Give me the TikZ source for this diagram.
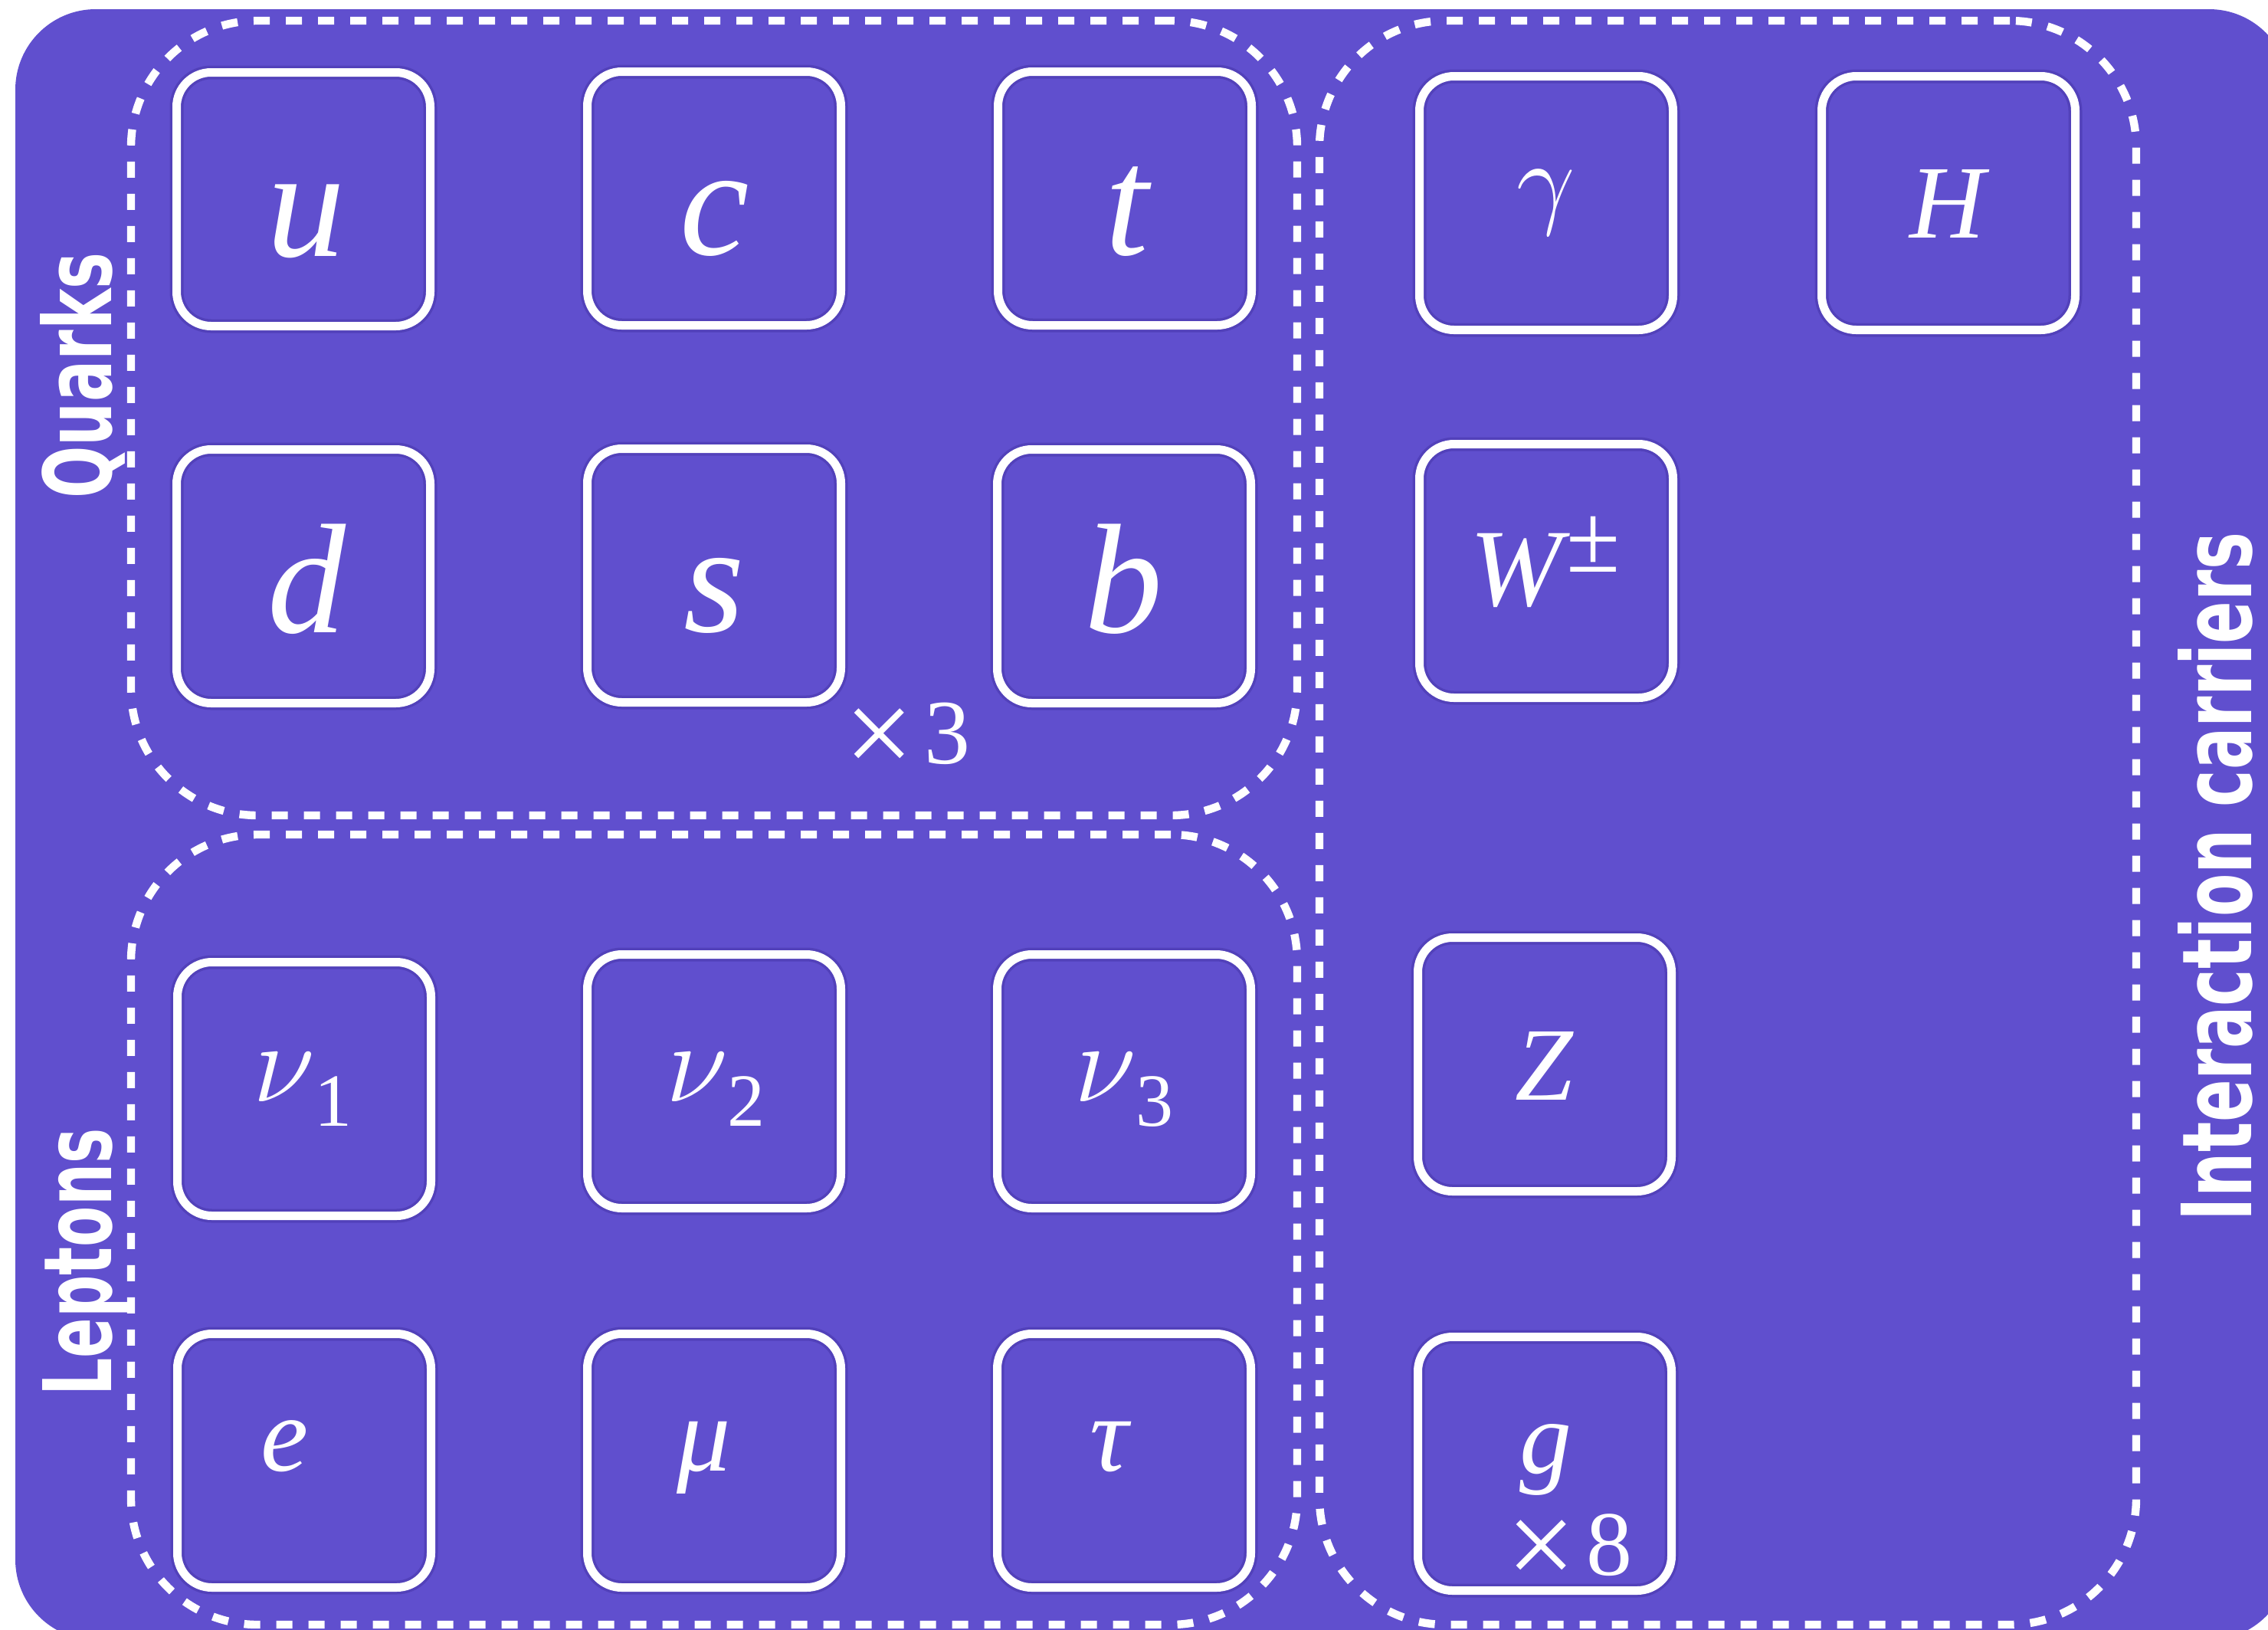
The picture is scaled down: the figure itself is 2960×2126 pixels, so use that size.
\RequirePackage{fix-cm}
\documentclass[tikz,border=0pt]{standalone}
\usepackage{graphicx}
\usepackage{fontspec}
\setmainfont{Liberation Serif}
\newfontfamily\labfont{DejaVu Sans}
\usetikzlibrary{calc}
\definecolor{bgpurple}{RGB}{96,79,206}
\definecolor{shadowcol}{RGB}{50,35,140}
\newcommand{\bigtimes}{{\fontsize{80pt}{80pt}\selectfont\raisebox{-7pt}{×}}}
\begin{document}
\begin{tikzpicture}[x=0.5pt,y=-0.5pt,
  particle/.style={shape=rectangle, draw=white, line width=5.5pt, rounded corners=22.5pt,
    minimum width=165.5pt, minimum height=165.5pt, inner sep=0pt,
    preaction={draw=shadowcol, draw opacity=0.3, line width=9pt}},
  group/.style={shape=rectangle, draw=white, line width=5.2pt, dash pattern=on 10.5pt off 10.5pt,
    rounded corners=82.5pt, inner sep=0pt},
  ql/.style={text=white, inner sep=0pt, anchor=base, font=\fontsize{102pt}{102pt}\selectfont\itshape},
  ll/.style={text=white, inner sep=0pt, anchor=base, font=\fontsize{70pt}{70pt}\selectfont\itshape},
  cl/.style={text=white, inner sep=0pt, anchor=base, font=\fontsize{68pt}{68pt}\selectfont\itshape},
  mult/.style={text=white, inner sep=0pt, anchor=base west, font=\fontsize{60pt}{60pt}\selectfont},
  lab/.style={text=white, inner sep=0pt, anchor=base, rotate=90, font=\labfont\bfseries\fontsize{62pt}{62pt}\selectfont}
]
\useasboundingbox (0,0) rectangle (2960,2126);
\clip (0,0) rectangle (2960,2126);
\fill[bgpurple, rounded corners=52.5pt] (20,12) rectangle (2988,2140);

% groups
\node[group, minimum width=761pt, minimum height=518.5pt] (quarks) at (932,545.5) {};
\node[group, minimum width=761pt, minimum height=515.5pt] (leptons) at (932,1604.5) {};
\node[group, minimum width=533pt, minimum height=1046.5pt] (carriers) at (2255,1073.5) {};

% quark boxes
\node[particle] (u) at (396,260) {};
\node[particle] (c) at (932,259) {};
\node[particle] (t) at (1468,259) {};
\node[particle] (d) at (396,752) {};
\node[particle] (s) at (932,751) {};
\node[particle] (b) at (1467,752) {};
% lepton boxes
\node[particle] (nu1) at (397,1421) {};
\node[particle] (nu2) at (932,1411) {};
\node[particle] (nu3) at (1467,1411) {};
\node[particle] (e) at (397,1906) {};
\node[particle] (mu) at (932,1906) {};
\node[particle] (tau) at (1467,1906) {};
% carrier boxes
\node[particle] (gamma) at (2018,265) {};
\node[particle] (H) at (2543,265) {};
\node[particle] (W) at (2018,745) {};
\node[particle] (Z) at (2016,1389) {};
\node[particle] (g) at (2016,1910) {};

% quark letters
\node[ql] (tu) at (399,334) {u};
\node[ql] (tc) at (933,332) {c};
\node[ql] (tt) at (1471,332) {t};
\node[ql] (td) at (400,825) {d};
\node[ql] (ts) at (932,824) {s};
\node[ql] (tb) at (1466,825) {b};
\node[mult] (x3) at (1102,996) {\bigtimes\hspace{7pt}3};

% lepton letters
\node[ll] (tnu1) at (395,1437) {\fontsize{74pt}{74pt}\selectfont$\nu$\raisebox{-16pt}{\fontsize{49pt}{49pt}\selectfont\upshape 1}};
\node[ll] (tnu2) at (934,1437) {\fontsize{74pt}{74pt}\selectfont$\nu$\raisebox{-16pt}{\fontsize{49pt}{49pt}\selectfont\upshape 2}};
\node[ll] (tnu3) at (1467,1437) {\fontsize{74pt}{74pt}\selectfont$\nu$\raisebox{-16pt}{\fontsize{49pt}{49pt}\selectfont\upshape 3}};
\node[ll] (te) at (372,1919) {e};
\node[ll] (tmu) at (919,1919) {μ};
\node[ll] (ttau) at (1448,1919) {τ};

% carrier letters
\node[cl, anchor=center] (tgamma) at (2018,264) {$\gamma$};
\node[cl] (tH) at (2542,310) {H};
\node[cl] (tW) at (2017,790) {\fontsize{72pt}{72pt}\selectfont W\hspace{3pt}\raisebox{22pt}{\fontsize{64pt}{64pt}\selectfont\upshape ±}};
\node[cl] (tZ) at (2015,1435) {Z};
\node[cl] (tg) at (2017,1922) {g};
\node[mult] (x8) at (1966,2055) {\bigtimes\hspace{7pt}8};

% group labels
\node[lab] (lq) at (145,490) {\resizebox{160.5pt}{46.5pt}{Quarks}};
\node[lab] (ll) at (145,1647) {\resizebox{174.5pt}{45pt}{Leptons}};
\node[lab] (lc) at (2938,1144) {\resizebox{449pt}{48pt}{Interaction carriers}};
\end{tikzpicture}
\end{document}
